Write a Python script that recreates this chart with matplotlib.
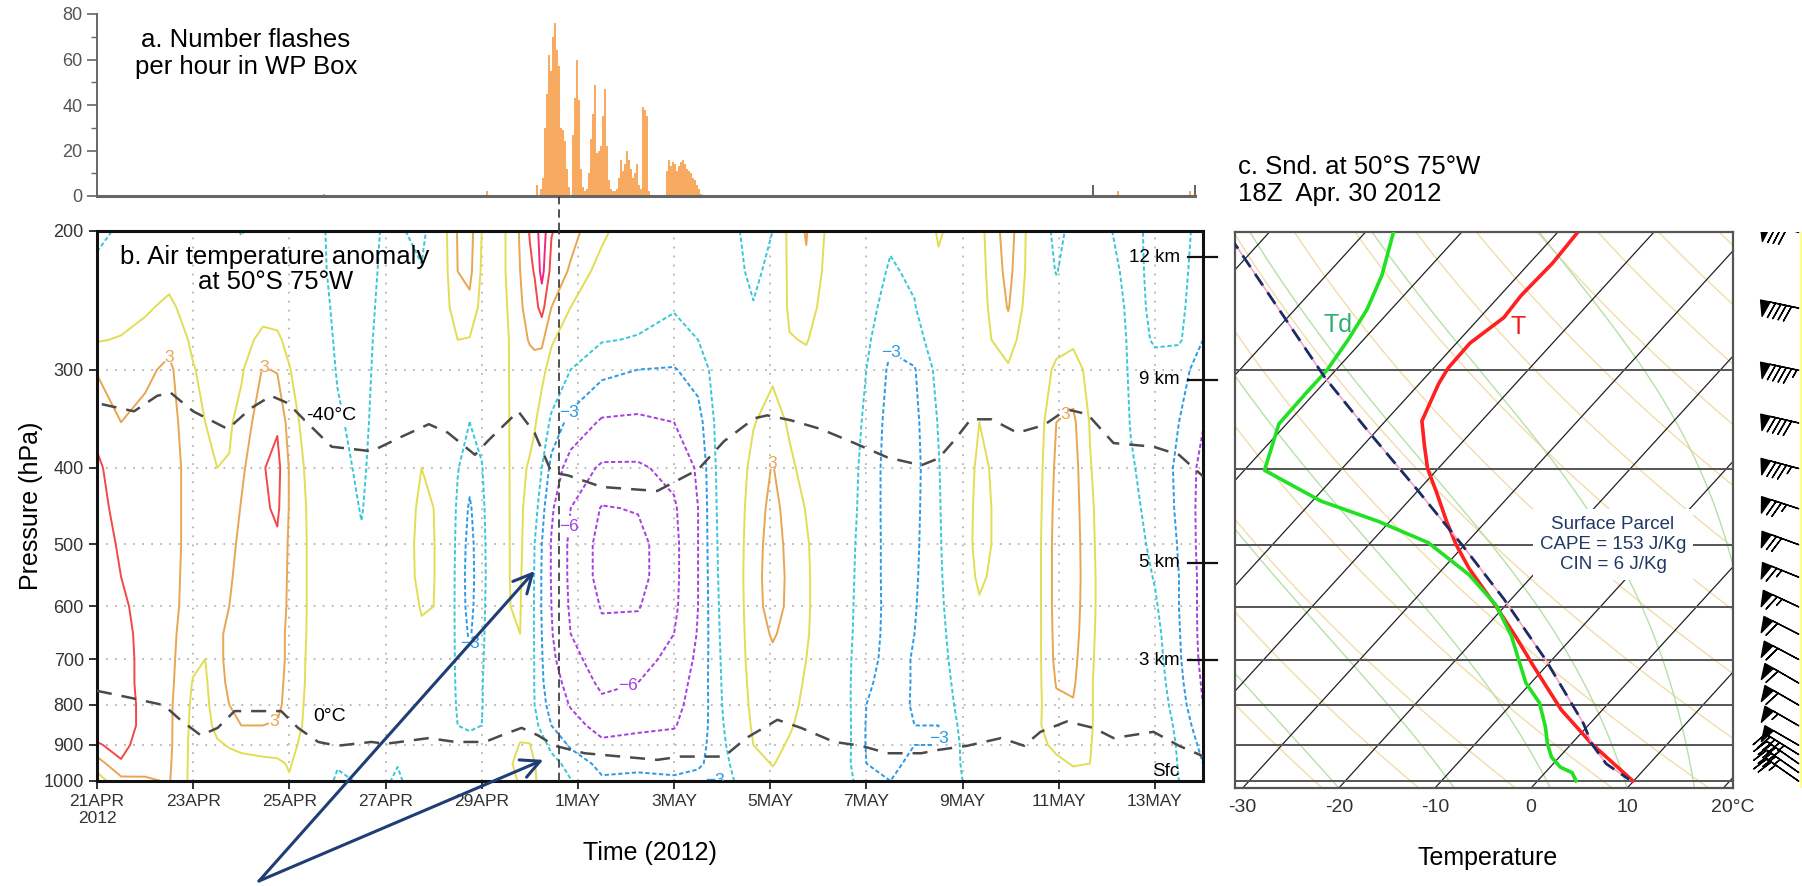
import numpy as np
import matplotlib
matplotlib.use("Agg")
import matplotlib.pyplot as plt
import matplotlib.transforms as mtransforms
from matplotlib.lines import Line2D
from matplotlib.ticker import NullLocator, MultipleLocator

plt.rcParams['font.family'] = ['Liberation Sans', 'DejaVu Sans']

W, H = 1802, 886

# ---------------- a. flashes per hour in WP box (hours after 21 Apr 00Z) ----------------
flash_start_hour = 219
flash_counts = [5, 0, 3, 8, 30, 45, 62, 55, 70, 76,
                64, 57, 30, 29, 24, 12, 4, 0, 27, 43,
                60, 42, 12, 4, 2, 3, 10, 25, 36, 49,
                19, 20, 22, 35, 47, 22, 7, 3, 2, 2,
                3, 8, 16, 11, 14, 20, 16, 12, 8, 10,
                14, 5, 3, 39, 38, 35, 2, 0, 0, 0,
                0, 0, 0, 0, 0, 11, 16, 13, 15, 14,
                11, 13, 15, 16, 14, 12, 11, 10, 8, 7,
                5, 3, 1]
stray_hours = [113, 194, 509, 545]
stray_counts = [1, 2, 2, 2]

# ---------------- b. air temperature anomaly (days after 21 Apr 00Z, hPa) ----------------
date_labels = ['21APR\n2012', '23APR', '25APR', '27APR', '29APR', '1MAY',
               '3MAY', '5MAY', '7MAY', '9MAY', '11MAY', '13MAY']
date_days = [0, 2, 4, 6, 8, 10, 12, 14, 16, 18, 20, 22]
plev = [200, 225, 250, 275, 300, 350, 400, 450, 500, 550, 600, 650, 700, 750, 800, 850, 900, 950, 1000]

anom_days = [0.0, 0.5, 1.0, 1.5, 2.0, 2.25, 2.5, 2.75, 3.0, 3.45, 3.75, 4.0, 4.5, 5.0, 5.5,
             6.0, 6.25, 6.75, 7.0, 7.25, 7.5, 7.75, 8.0, 8.25, 8.6, 8.8, 9.0, 9.1, 9.25, 9.45,
             9.85, 10.5, 11.25, 12.0, 12.5, 12.85, 13.25, 13.65, 14.05, 14.4, 14.75, 15.1, 15.5,
             16.0, 16.5, 17.0, 17.5, 18.0, 18.35, 18.6, 18.95, 19.3, 19.6, 19.95, 20.3, 20.65,
             21.0, 21.5, 22.0, 22.5, 23.0]
# one column per day above, values from 200 hPa down to 1000 hPa
anom_cols = [
    [-2.0, -1.0, 0.3, 1.4, 2.9, 4.0, 4.8, 5.0, 5.2, 5.3, 5.3, 5.3, 5.2, 5.0, 5.0, 5.0, 4.4, 2.2, 0.8],
    [-1.2, -0.2, 0.9, 1.6, 2.2, 3.0, 3.6, 4.0, 4.3, 4.5, 4.7, 4.9, 5.0, 5.0, 5.0, 5.0, 4.8, 4.4, 2.5],
    [-0.5, 0.4, 1.3, 2.0, 2.7, 3.4, 3.8, 4.0, 4.1, 4.1, 4.1, 4.1, 4.1, 4.1, 4.2, 4.2, 4.0, 3.6, 2.8],
    [0.2, 1.0, 1.8, 2.6, 3.3, 3.6, 3.7, 3.6, 3.6, 3.5, 3.5, 3.4, 3.4, 3.4, 3.3, 3.3, 3.3, 3.2, 3.1],
    [-0.3, 0.3, 0.8, 1.2, 1.6, 2.0, 2.3, 2.4, 2.4, 2.4, 2.3, 2.1, 1.8, 1.4, 1.2, 1.1, 1.0, 1.0, 1.0],
    [-0.5, 0.0, 0.4, 0.8, 1.1, 1.5, 1.9, 2.2, 2.4, 2.4, 2.3, 2.0, 1.5, 1.2, 1.0, 1.0, 1.0, 0.9, 0.9],
    [-0.5, -0.2, 0.1, 0.4, 0.7, 1.1, 1.5, 1.9, 2.3, 2.6, 2.8, 2.9, 2.9, 2.8, 2.5, 1.9, 1.3, 1.0, 0.9],
    [-1.0, -0.5, 0.0, 0.4, 0.8, 1.3, 1.6, 2.0, 2.5, 2.8, 3.0, 3.1, 3.1, 3.1, 3.0, 2.6, 1.6, 1.0, 0.9],
    [-1.6, -0.6, 0.2, 0.8, 1.3, 2.0, 2.7, 3.1, 3.4, 3.5, 3.6, 3.6, 3.6, 3.5, 3.3, 3.0, 1.8, 1.1, 0.9],
    [-1.0, -0.3, 0.8, 2.0, 3.1, 4.0, 4.4, 4.2, 4.0, 3.8, 3.7, 3.6, 3.6, 3.5, 3.4, 3.0, 2.0, 1.2, 1.0],
    [-0.8, -0.2, 0.8, 1.8, 2.9, 4.3, 5.0, 4.8, 4.2, 3.8, 3.6, 3.5, 3.5, 3.4, 3.3, 2.9, 2.0, 1.3, 1.1],
    [-0.5, 0.0, 0.5, 1.0, 1.6, 2.4, 2.9, 2.9, 2.8, 2.8, 2.8, 2.7, 2.7, 2.6, 2.5, 2.3, 1.9, 1.6, 1.4],
    [-1.1, -1.0, -0.8, -0.6, -0.3, 0.2, 0.6, 0.9, 1.0, 1.0, 1.0, 1.0, 0.9, 0.9, 0.8, 0.8, 0.7, 0.6, 0.5],
    [-1.9, -1.9, -1.8, -1.7, -1.6, -1.3, -1.0, -0.6, -0.3, -0.1, 0.0, -0.1, -0.2, -0.3, -0.4, -0.6, -0.8, -1.3, -1.9],
    [-2.5, -2.5, -2.4, -2.3, -2.2, -2.0, -1.8, -1.6, -1.3, -0.9, -0.6, -0.5, -0.5, -0.5, -0.5, -0.6, -0.8, -1.0, -1.3],
    [-1.2, -1.0, -0.8, -0.6, -0.5, -0.4, -0.3, -0.2, 0.0, 0.2, 0.3, 0.3, 0.2, 0.1, 0.0, -0.2, -0.5, -0.9, -1.2],
    [-1.3, -1.1, -0.8, -0.6, -0.4, -0.2, 0.0, 0.2, 0.4, 0.5, 0.5, 0.4, 0.3, 0.2, 0.0, -0.3, -0.7, -1.4, -1.9],
    [-1.9, -1.4, -1.0, -0.6, -0.2, 0.5, 1.5, 1.9, 2.0, 1.9, 1.6, 1.3, 0.9, 0.6, 0.4, 0.3, 0.2, 0.1, 0.0],
    [-0.8, -0.5, -0.2, 0.0, 0.2, 0.6, 1.2, 1.5, 1.6, 1.6, 1.5, 1.2, 0.8, 0.5, 0.3, 0.2, 0.1, 0.1, 0.1],
    [1.3, 1.2, 1.0, 0.6, 0.3, 0.0, 0.0, 0.2, 0.3, 0.3, 0.2, 0.0, -0.2, -0.3, -0.3, -0.2, -0.1, 0.0, 0.1],
    [3.1, 3.0, 2.5, 1.5, 0.6, -0.8, -1.4, -1.8, -2.0, -2.1, -2.1, -2.0, -1.9, -1.8, -1.7, -1.5, -0.8, -0.4, -0.2],
    [3.6, 3.4, 2.6, 1.4, 0.3, -1.5, -2.5, -3.2, -3.5, -3.6, -3.5, -3.2, -2.8, -2.3, -2.0, -1.7, -1.0, -0.5, -0.2],
    [1.5, 1.3, 1.0, 0.5, 0.0, -1.0, -1.6, -1.9, -2.0, -2.0, -1.9, -1.8, -1.7, -1.6, -1.6, -1.5, -0.8, -0.4, -0.2],
    [0.8, 0.8, 0.7, 0.6, 0.5, 0.2, 0.0, -0.2, -0.4, -0.5, -0.5, -0.5, -0.5, -0.5, -0.4, -0.3, 0.0, 0.3, 0.4],
    [1.8, 1.8, 1.7, 1.6, 1.6, 1.6, 1.6, 1.6, 1.6, 1.6, 1.5, 1.4, 1.1, 0.8, 0.6, 0.6, 0.9, 1.4, 1.0],
    [3.2, 3.0, 2.8, 2.6, 2.3, 2.0, 1.9, 1.8, 1.8, 1.7, 1.6, 1.5, 1.2, 0.9, 0.7, 0.9, 1.6, 1.9, 1.7],
    [4.6, 4.2, 3.6, 3.1, 2.5, 2.0, 1.3, 0.8, 0.4, 0.1, -0.1, -0.3, -0.4, -0.4, -0.3, 0.4, 1.6, 2.0, 1.8],
    [5.0, 4.6, 4.0, 3.2, 2.6, 1.8, 0.5, -0.8, -1.5, -1.7, -1.7, -1.7, -1.6, -1.6, -1.5, -1.0, 0.5, 1.6, 1.6],
    [7.0, 6.5, 5.0, 3.3, 2.2, 0.2, -1.5, -2.5, -3.0, -3.1, -3.1, -3.0, -2.9, -2.8, -2.5, -2.0, -0.8, 0.6, 1.2],
    [4.6, 4.0, 3.0, 1.8, 0.5, -2.0, -3.5, -4.3, -4.6, -4.6, -4.5, -4.4, -4.2, -3.9, -3.6, -3.0, -2.0, -0.8, 0.2],
    [3.5, 2.8, 1.5, 0.0, -1.5, -3.5, -5.2, -6.0, -6.3, -6.3, -6.2, -6.0, -5.5, -5.0, -4.6, -4.0, -3.2, -2.2, -1.4],
    [1.9, 0.8, -0.4, -1.4, -2.6, -4.7, -6.2, -7.6, -8.0, -8.0, -7.6, -7.2, -6.8, -6.3, -5.7, -5.0, -4.2, -3.4, -2.8],
    [0.0, -0.5, -1.0, -1.6, -3.0, -4.8, -6.2, -7.4, -8.0, -8.0, -7.6, -7.0, -6.5, -6.0, -5.4, -4.8, -4.0, -3.3, -2.7],
    [-0.3, -0.8, -1.4, -2.0, -3.1, -4.5, -5.6, -6.2, -6.4, -6.4, -6.3, -6.0, -5.6, -5.2, -4.9, -4.6, -4.0, -3.4, -2.8],
    [-0.5, -0.7, -1.0, -1.5, -2.4, -3.6, -4.3, -4.5, -4.5, -4.5, -4.5, -4.4, -4.2, -4.0, -3.9, -3.7, -3.4, -3.1, -2.8],
    [-0.3, -0.4, -0.5, -0.7, -1.0, -1.4, -1.6, -1.7, -1.8, -1.9, -2.0, -2.1, -2.2, -2.3, -2.4, -2.5, -2.6, -2.8, -3.0],
    [-1.2, -1.0, -0.6, -0.3, 0.0, 0.3, 0.4, 0.5, 0.5, 0.5, 0.4, 0.3, 0.2, 0.1, 0.0, -0.3, -0.7, -1.1, -1.5],
    [-2.2, -1.9, -1.4, -0.8, 0.2, 1.4, 2.0, 2.3, 2.5, 2.6, 2.6, 2.5, 2.4, 2.2, 2.0, 1.8, 1.5, 0.8, 0.2],
    [-1.5, -1.0, -0.3, 0.5, 1.2, 2.2, 3.1, 3.4, 3.5, 3.5, 3.4, 3.1, 2.8, 2.6, 2.4, 2.2, 2.0, 1.6, 1.0],
    [2.2, 2.0, 1.8, 1.4, 1.2, 1.3, 1.8, 2.5, 2.7, 2.8, 2.8, 2.7, 2.5, 2.2, 2.0, 1.7, 1.3, 0.9, 0.5],
    [3.1, 2.8, 2.2, 1.6, 1.0, 0.6, 1.0, 1.4, 1.7, 1.8, 1.8, 1.7, 1.5, 1.3, 1.1, 0.9, 0.6, 0.4, 0.2],
    [1.6, 1.4, 1.1, 0.8, 0.5, 0.3, 0.3, 0.4, 0.5, 0.5, 0.5, 0.5, 0.4, 0.3, 0.2, 0.1, 0.0, -0.1, -0.2],
    [0.3, 0.2, 0.1, 0.0, -0.1, -0.3, -0.5, -0.7, -0.8, -0.9, -0.9, -0.9, -0.9, -0.8, -0.7, -0.6, -0.6, -0.7, -0.8],
    [-0.3, -0.6, -0.9, -1.2, -1.5, -1.8, -2.0, -2.0, -2.1, -2.1, -2.2, -2.3, -2.5, -2.8, -3.0, -3.1, -3.1, -3.0, -2.3],
    [-1.2, -1.7, -2.2, -2.8, -3.3, -3.6, -3.7, -3.7, -3.6, -3.6, -3.5, -3.5, -3.5, -3.5, -3.4, -3.3, -3.2, -3.2, -3.0],
    [-0.8, -1.2, -1.6, -2.2, -3.1, -3.4, -3.5, -3.4, -3.3, -3.2, -3.1, -3.0, -2.9, -2.9, -2.9, -3.0, -3.0, -2.8, -2.5],
    [1.8, 1.0, 0.2, -0.5, -1.0, -1.4, -1.6, -1.7, -1.8, -1.9, -2.0, -2.1, -2.2, -2.4, -2.6, -3.0, -3.0, -2.5, -2.0],
    [0.3, 0.2, 0.1, 0.0, -0.2, 0.0, 0.5, 0.7, 0.8, 0.6, 0.2, -0.2, -0.5, -0.7, -0.9, -1.1, -1.3, -1.4, -1.5],
    [1.0, 0.9, 0.8, 0.7, 0.8, 1.5, 1.9, 2.0, 2.0, 1.8, 1.3, 0.8, 0.4, 0.2, 0.0, -0.2, -0.3, -0.4, -0.5],
    [2.2, 2.0, 1.8, 1.5, 1.2, 1.2, 1.4, 1.5, 1.5, 1.3, 1.0, 0.7, 0.4, 0.2, 0.1, 0.0, 0.0, 0.0, 0.0],
    [3.8, 3.5, 3.1, 2.2, 1.3, 0.7, 0.5, 0.4, 0.4, 0.4, 0.4, 0.4, 0.3, 0.3, 0.3, 0.4, 0.5, 0.4, 0.3],
    [1.6, 1.5, 1.2, 0.8, 0.6, 0.5, 0.5, 0.5, 0.5, 0.5, 0.5, 0.5, 0.5, 0.5, 0.5, 0.5, 0.5, 0.4, 0.3],
    [-0.5, -0.3, 0.0, 0.2, 0.5, 0.9, 1.1, 1.2, 1.3, 1.3, 1.3, 1.3, 1.3, 1.3, 1.3, 1.4, 1.2, 0.8, 0.4],
    [-2.0, -1.6, -0.5, 0.8, 1.9, 3.0, 3.3, 3.5, 3.6, 3.6, 3.6, 3.5, 3.4, 3.1, 2.7, 2.3, 1.8, 1.2, 0.6],
    [-1.0, -0.5, 0.2, 1.2, 2.2, 3.3, 3.6, 3.7, 3.8, 3.8, 3.7, 3.6, 3.4, 3.2, 2.9, 2.5, 2.0, 1.6, 1.0],
    [0.0, 0.2, 0.5, 0.8, 1.0, 1.4, 1.6, 1.8, 1.9, 2.0, 2.0, 1.9, 1.8, 1.7, 1.7, 1.7, 1.6, 1.5, 1.2],
    [-1.3, -0.8, -0.2, 0.2, 0.3, 0.4, 0.5, 0.5, 0.5, 0.5, 0.5, 0.5, 0.5, 0.5, 0.5, 0.5, 0.5, 0.5, 0.4],
    [-2.2, -2.1, -2.0, -1.9, -1.8, -1.6, -1.3, -1.0, -0.8, -0.6, -0.4, -0.3, -0.2, -0.1, 0.0, 0.0, 0.0, 0.0, 0.0],
    [-0.8, -1.0, -1.2, -1.4, -1.8, -2.2, -2.4, -2.2, -1.9, -1.6, -1.3, -1.0, -0.8, -0.6, -0.4, -0.3, -0.2, -0.2, -0.2],
    [-1.0, -1.0, -1.1, -1.3, -2.5, -3.0, -3.2, -3.2, -3.1, -3.0, -3.0, -2.9, -2.8, -2.6, -2.3, -1.9, -1.7, -1.6, -1.5],
    [-2.0, -2.3, -2.6, -3.0, -3.6, -4.4, -5.0, -5.1, -5.1, -5.0, -5.0, -5.0, -4.9, -4.7, -4.5, -4.0, -3.4, -3.0, -2.7],
]

# -40C and 0C isotherm heights (hPa)
m40_days = [0.1, 0.77, 1.25, 1.53, 2.0, 2.72, 3.2, 3.62, 3.97, 4.32, 4.88, 5.71, 6.34, 6.9, 7.3,
            7.86, 8.14, 8.76, 9.1, 9.45, 9.8, 10.5, 11.65, 12.5, 13.04, 13.67, 13.94, 14.43, 15.05,
            15.75, 16.44, 17.14, 17.5, 17.83, 18.17, 18.6, 19.14, 19.69, 20.17, 20.6, 21.14, 21.97,
            22.5, 23.0]
m40_p = [332, 339, 324, 321, 339, 357, 336, 324, 331, 348, 376, 381, 365, 352, 361,
         385, 369, 339, 361, 405, 409, 423, 428, 402, 370, 346, 343, 348, 357,
         372, 388, 397, 389, 369, 347, 347, 361, 353, 337, 342, 372, 376,
         385, 410]
zero_days = [0, 0.7, 1.39, 1.74, 2.16, 2.51, 2.86, 3.2, 3.83, 4.18, 4.6, 5.0, 5.71, 6.0, 6.9,
             7.45, 8.07, 8.41, 8.83, 9.17, 9.52, 10.14, 10.9, 11.65, 12.14, 13.04, 13.5, 14.15,
             14.64, 15.33, 15.89, 16.44, 17.14, 17.5, 18.1, 18.8, 19.28, 19.62, 20.17, 20.72,
             21.14, 21.97, 22.5, 23.0]
zero_p = [768, 784, 801, 837, 875, 856, 815, 815, 815, 856, 892, 902, 892, 897, 882,
          892, 892, 875, 856, 875, 902, 922, 931, 940, 931, 931, 882, 836,
          856, 892, 902, 922, 922, 913, 902, 882, 902, 866, 840, 856,
          882, 866, 902, 930]

km_labels = ['12 km', '9 km', '5 km', '3 km']
km_p = [216, 309, 528, 702]
sounding_day = 9.6
arrow_tips = [(9.1, 541), (9.28, 940)]

# ---------------- c. sounding 50S 75W, 18Z 30 Apr ----------------
T_p = [201, 219, 241, 257, 277, 298, 312, 348, 373, 400, 428, 467, 500, 536, 600, 653, 714, 811, 896, 950, 999]
T_c = [-47.9, -47.6, -47.8, -47.5, -48.6, -48.5, -48.0, -46.2, -43.7, -41.1, -38.0, -34.1, -30.9,
       -27.3, -20.8, -16.1, -11.3, -4.3, 2.1, 6.3, 9.9]
Td_p = [200, 227, 251, 274, 300, 321, 351, 366, 402, 440, 467, 497, 546, 597, 653, 700, 750,
        795, 853, 896, 932, 960, 975, 999]
Td_c = [-67.1, -64.2, -62.5, -61.6, -60.9, -60.9, -60.8, -59.9, -57.9, -49.1, -41.2, -34.0,
        -26.7, -21.0, -16.5, -13.5, -10.5, -7.2, -4.3, -2.5, -0.8, 1.1, 2.8, 4.0]
par_p = [203, 307, 361, 424, 500, 586, 700, 844, 896, 950, 995]
par_c = [-83.6, -60.3, -50.4, -40.4, -30.3, -20.8, -10.7, -0.7, 2.1, 5.5, 9.4]
temp_ticks = [-30, -20, -10, 0, 10, 20]

wind_p = [200, 250, 300, 350, 400, 450, 500, 550, 600, 650, 700, 750, 800, 850, 900, 925, 950, 975, 1000]
wind_kt = [80, 90, 95, 90, 85, 75, 70, 65, 65, 60, 60, 60, 60, 55, 50, 45, 40, 35, 25]
wind_dir = [280, 282, 282, 283, 285, 288, 290, 292, 295, 297, 298, 300, 300, 300, 300, 302, 305, 305, 305]

K_SKEW = 32.4
P_REF = 1020.0


def skew(t, p):
    return np.asarray(t, float) + K_SKEW * np.log(P_REF / np.asarray(p, float))


def moist_adiabat(t0, pp):
    # simple pseudo-adiabat integration, pp decreasing
    Rd, cp, Lv, eps = 287.0, 1004.0, 2.5e6, 0.622
    T = t0 + 273.15
    out = [T]
    for i in range(1, len(pp)):
        p = pp[i - 1]
        es = 6.112 * np.exp(17.67 * (T - 273.15) / (T - 29.65))
        rs = eps * es / (p - es)
        dTdp = (Rd * T + Lv * rs) / (p * (cp + Lv ** 2 * rs * eps / (Rd * T ** 2)))
        T = T + dTdp * (pp[i] - p)
        out.append(T)
    return np.array(out) - 273.15


def box(l, t, r, b):
    return [l / W, 1 - b / H, (r - l) / W, (b - t) / H]


fig = plt.figure(figsize=(W / 100, H / 100), dpi=100)

# ---------------- panel a ----------------
ax_a = fig.add_axes(box(97, 14, 1195, 196))
fl_days = (flash_start_hour + np.arange(len(flash_counts))) / 24.0
ax_a.bar(fl_days, flash_counts, width=1 / 24, align='edge', color='#f7aa60', linewidth=0)
ax_a.bar(np.array(stray_hours) / 24.0, stray_counts, width=1 / 24, align='edge', color='#f7aa60', linewidth=0)
ax_a.set_xlim(0, 23 * 1098 / 1106)
ax_a.set_ylim(0, 80)
for s in ['top', 'right']:
    ax_a.spines[s].set_visible(False)
ax_a.spines['left'].set_color('#666666')
ax_a.spines['left'].set_linewidth(1.4)
ax_a.spines['bottom'].set_color('#666666')
ax_a.spines['bottom'].set_linewidth(2.2)
ax_a.set_yticks([0, 20, 40, 60, 80])
ax_a.yaxis.set_minor_locator(MultipleLocator(10))
ax_a.tick_params(axis='y', which='major', direction='out', length=7, width=1.2, color='#666666',
                 labelsize=13, labelcolor='#555555')
ax_a.tick_params(axis='y', which='minor', direction='out', length=4, width=1.0, color='#666666')
ax_a.set_xticks([20.71, 22.83])
ax_a.set_xticklabels([])
ax_a.tick_params(axis='x', direction='in', length=8, width=1.3, color='#555555')
fig.text(246 / W, 1 - 28 / H, 'a. Number flashes\nper hour in WP Box', ha='center', va='top',
         fontsize=18.5, linespacing=1.15)

# ---------------- panel b ----------------
ax_b = fig.add_axes(box(97, 231, 1203, 781))
ax_b.set_yscale('log')
ax_b.set_ylim(1000, 200)
ax_b.set_xlim(0, 23)
Z = np.array(anom_cols).T

for d in date_days[1:]:
    ax_b.axvline(d, color='#b5b5b5', lw=1.3, ls=(0, (1, 4)), zorder=1)
for p in [300, 400, 500, 600, 700, 800, 900]:
    ax_b.axhline(p, color='#b5b5b5', lw=1.3, ls=(0, (1, 4)), zorder=1)

levels = [-7.5, -6, -4.5, -3, -1.5, 1.5, 3, 4.5, 6]
level_colors = ['#a63fe0', '#a63fe0', '#a63fe0', '#2b9ae6', '#36c8d6',
                '#e2dd55', '#e9a652', '#f24848', '#ee2a80']
cs = {}
for lev, col in zip(levels, level_colors):
    style = 'solid' if lev > 0 else (0, (2.2, 1.3))
    cs[lev] = ax_b.contour(anom_days, plev, Z, levels=[lev], colors=[col],
                           linewidths=1.4, linestyles=[style], zorder=2)
labels = []
labels += ax_b.clabel(cs[3], fmt={3: '3'}, fontsize=12.5, inline=True, inline_spacing=1,
                      manual=[(1.5, 284), (3.5, 295), (3.76, 864), (14.0, 393), (20.1, 340)])
labels += ax_b.clabel(cs[-3], fmt={-3: '−3'}, fontsize=12.5, inline=True, inline_spacing=1,
                      manual=[(9.8, 340), (7.8, 670), (16.58, 281), (12.9, 985), (17.55, 882)])
labels += ax_b.clabel(cs[-6], fmt={-6: '−6'}, fontsize=12.5, inline=True, inline_spacing=1,
                      manual=[(10.0, 476), (11.1, 776)])
for t in labels:
    t.set_rotation(0)

ax_b.plot(m40_days, m40_p, color='#4a4a4a', lw=1.8, ls=(0, (6, 4)), zorder=3)
ax_b.plot(zero_days, zero_p, color='#4a4a4a', lw=1.8, ls=(0, (6, 4)), zorder=3)
ax_b.text(4.35, 343, '-40°C', fontsize=14, ha='left', va='center', zorder=4,
          bbox=dict(facecolor='white', edgecolor='none', pad=0.5))
ax_b.text(4.5, 828, '0°C', fontsize=14, ha='left', va='center', zorder=4,
          bbox=dict(facecolor='white', edgecolor='none', pad=0.5))
ax_b.axvline(sounding_day, color='#333333', lw=1.2, ls=(0, (5, 3)), zorder=4)

ax_b.set_yticks([200, 300, 400, 500, 600, 700, 800, 900, 1000])
ax_b.set_yticklabels(['200', '300', '400', '500', '600', '700', '800', '900', '1000'])
ax_b.yaxis.set_minor_locator(NullLocator())
ax_b.set_xticks(date_days)
ax_b.set_xticklabels(date_labels)
ax_b.tick_params(axis='both', direction='out', length=6, width=1.3, color='#222222',
                 labelsize=13, labelcolor='#333333')
ax_b.tick_params(axis='x', labelsize=12.5, pad=3)
for s in ax_b.spines.values():
    s.set_linewidth(2.2)
    s.set_color('#111111')
ax_b.set_ylabel('Pressure (hPa)', fontsize=18, labelpad=0)
ax_b.text(0.161, 0.975, 'b. Air temperature anomaly\nat 50°S 75°W', transform=ax_b.transAxes,
          ha='center', va='top', fontsize=18.5, linespacing=1.05, multialignment='center', zorder=5)
fig.text(650 / W, 1 - 853 / H, 'Time (2012)', ha='center', va='center', fontsize=18)

trans_b = mtransforms.blended_transform_factory(ax_b.transAxes, ax_b.transData)
for lbl, p in zip(km_labels, km_p):
    ax_b.plot([0.986, 1.013], [p, p], transform=trans_b, color='#111111', lw=1.6, clip_on=False, zorder=6)
    ax_b.text(0.979, p, lbl, transform=trans_b, ha='right', va='center', fontsize=13.5, zorder=6)
ax_b.text(0.979, 972, 'Sfc', transform=trans_b, ha='right', va='center', fontsize=13.5, zorder=6)

# dashed sounding line carried up to the flash panel
x_snd = 97 + sounding_day * 1106 / 23
fig.add_artist(Line2D([x_snd / W, x_snd / W], [1 - 231 / H, 1 - 197 / H], color='#333333',
                      lw=1.2, ls=(0, (5, 3))))

for tip in arrow_tips:
    ax_b.annotate('', xy=tip, xycoords='data', xytext=(259, 5), textcoords='figure pixels',
                  arrowprops=dict(arrowstyle='->,head_length=0.9,head_width=0.45', color='#1f3e75',
                                  lw=2.2, mutation_scale=15, shrinkA=0, shrinkB=0),
                  annotation_clip=False, zorder=7)

# ---------------- panel c ----------------
ax_c = fig.add_axes(box(1235, 232, 1733, 788))
ax_c.set_yscale('log')
ax_c.set_ylim(P_REF, 200)
ax_c.set_xlim(-30.8, 21.0)
ax_c.set_xticks([])
ax_c.set_yticks([])
ax_c.yaxis.set_minor_locator(NullLocator())

pp = np.linspace(P_REF, 200, 200)
for th in range(250, 390, 10):
    t = th * (pp / 1000.0) ** 0.2857 - 273.15
    ax_c.plot(skew(t, pp), pp, color='#f3dcaa', lw=1.0, zorder=1)
for t0 in [-20, -8, 2, 10, 17, 24]:
    ax_c.plot(skew(moist_adiabat(t0, pp), pp), pp, color='#b6e0a8', lw=1.0, zorder=1)
for t in range(-120, 40, 10):
    ax_c.plot(skew([t, t], [P_REF, 200]), [P_REF, 200], color='#222222', lw=0.9, zorder=2)
for p in [300, 400, 500, 600, 700, 800, 900, 1000]:
    ax_c.axhline(p, color='#555555', lw=1.4, zorder=2)

ax_c.plot(skew(T_c, T_p), T_p, color='#ff2020', lw=2.6, zorder=4)
ax_c.plot(skew(Td_c, Td_p), Td_p, color='#22e022', lw=2.6, zorder=4)
ax_c.plot(skew(par_c, par_p), par_p, color='#f5a3c7', lw=1.2, zorder=4)
ax_c.plot(skew(par_c, par_p), par_p, color='#1c2a66', lw=2.0, ls=(0, (5, 3)), zorder=5)
ax_c.text(-20.1, 263, 'Td', color='#2eae70', fontsize=18, ha='center', va='center', zorder=6)
ax_c.text(-1.3, 264, 'T', color='#ee2020', fontsize=18, ha='center', va='center', zorder=6)
ax_c.text(0.759, 0.4376, 'Surface Parcel\nCAPE = 153 J/Kg\nCIN = 6 J/Kg', transform=ax_c.transAxes,
          ha='center', va='center', color='#1f3864', fontsize=13.5, linespacing=1.25, zorder=6,
          bbox=dict(facecolor='white', edgecolor='none', pad=5))
for s in ax_c.spines.values():
    s.set_color('#555555')
    s.set_linewidth(1.6)
trans_c = mtransforms.blended_transform_factory(ax_c.transData, ax_c.transAxes)
for t in temp_ticks:
    last = t == temp_ticks[-1]
    ax_c.text(t - 1.3 if last else t, -0.02, ('%d°C' % t) if last else ('%d' % t), transform=trans_c,
              ha='left' if last else 'center', va='top', fontsize=14, color='#333333')
fig.text(1488 / W, 1 - 858 / H, 'Temperature', ha='center', va='center', fontsize=18)
fig.text(1238 / W, 1 - 155 / H, 'c. Snd. at 50°S 75°W\n18Z  Apr. 30 2012', ha='left', va='top',
         fontsize=18.5, linespacing=1.15)

# wind barbs
ax_w = fig.add_axes(box(1738, 232, 1802, 788))
ax_w.set_yscale('log')
ax_w.set_ylim(P_REF, 200)
ax_w.set_xlim(0, 1)
ax_w.axis('off')
ax_w.axvline(0.985, color='#ffff8c', lw=2.5)
wd = np.deg2rad(wind_dir)
u = -np.array(wind_kt) * np.sin(wd)
v = -np.array(wind_kt) * np.cos(wd)
ax_w.barbs(np.full(len(wind_p), 0.95), wind_p, u, v, length=7.5, flip_barb=True, lw=1.0,
           color='k', sizes=dict(spacing=0.14, height=0.4, width=0.25))

fig.savefig('out.png', dpi=100)
